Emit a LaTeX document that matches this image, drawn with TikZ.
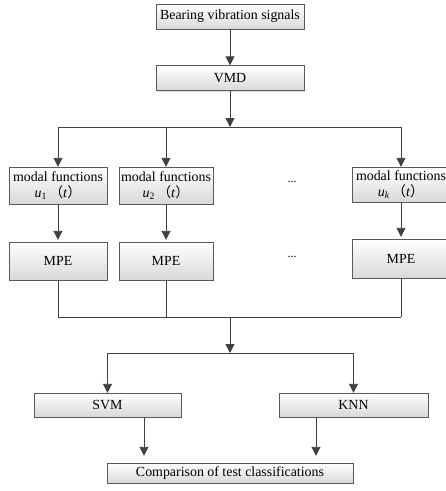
\documentclass[tikz,border=0pt]{standalone}
\usepackage{fontspec}
\setmainfont{Liberation Serif}
\newfontfamily\cjk{Noto Sans CJK SC}
\usetikzlibrary{arrows.meta,positioning,shadows,calc}

\newcommand{\modalfn}[1]{modal functions\\\textit{u}\textsubscript{#1}\,{\cjk （}\textit{t}{\cjk ）}}

\begin{document}
\begin{tikzpicture}[x=1pt,y=-1pt,font=\fontsize{13.9}{16}\selectfont]
  \tikzstyle{box}=[draw=black!65,top color=white,bottom color=black!15,
    drop shadow={shadow xshift=1.2pt,shadow yshift=-1.2pt,opacity=0.25},
    inner sep=1pt,align=center]
  \tikzstyle{arr}=[draw=black!75,line width=0.9pt,-{Triangle[length=9pt,width=9pt]}]
  \tikzstyle{ln}=[draw=black!75,line width=0.9pt]
  \useasboundingbox (0,0) rectangle (446,491);
  % top of the chain
  \node[box,minimum width=148pt,minimum height=25pt] (sig) at (230,16.5) {Bearing vibration signals};
  \node[box,minimum width=148pt,minimum height=25pt] (vmd) at (230,78) {VMD};
  \coordinate (split) at (230,127);
  % modes
  \node[box,minimum width=98pt,minimum height=37pt] (mf1) at (58,185.5) {\modalfn{1}};
  \node[box,minimum width=94pt,minimum height=37pt] (mf2) at (166,185.5) {\modalfn{2}};
  \node[box,minimum width=98pt,minimum height=35pt] (mf3) at (401,184.5) {\modalfn{\textit{k}}};
  \node[box,minimum width=98pt,minimum height=38pt] (mpe1) at (58,261) {MPE};
  \node[box,minimum width=94pt,minimum height=38pt] (mpe2) at (166,261) {MPE};
  \node[box,minimum width=98pt,minimum height=39pt] (mpe3) at (401,258.5) {MPE};
  \node[font=\fontsize{12}{14}\selectfont] (d1) at (292,182) {...};
  \node[font=\fontsize{12}{14}\selectfont] (d2) at (292,257) {...};
  \coordinate (merge) at (230,317);
  \coordinate (fork) at (230,353);
  % classifiers
  \node[box,minimum width=147pt,minimum height=24pt] (svm) at (107.5,405) {SVM};
  \node[box,minimum width=149pt,minimum height=24pt] (knn) at (353.5,405) {KNN};
  \node[box,minimum width=246pt,minimum height=20pt] (comp) at (230,473) {Comparison of test classifications};
  \coordinate (c1) at (144,440);
  \coordinate (c2) at (316,440);
  % connectors
  \draw[arr] (sig) -- (vmd);
  \draw[arr] (vmd) -- (split);
  \draw[ln] (mf1.north |- split) -- (mf3.north |- split);
  \foreach \i in {1,2,3} {
    \draw[arr] (mf\i.north |- split) -- (mf\i);
    \draw[arr,shorten >=2pt] (mf\i) -- (mpe\i);
    \draw[ln] (mpe\i) -- (mpe\i.south |- merge);
  }
  \draw[ln] (mpe1.south |- merge) -- (mpe3.south |- merge);
  \draw[arr] (merge) -- (fork);
  \draw[ln] (svm.north |- fork) -- (knn.north |- fork);
  \draw[arr] (svm.north |- fork) -- (svm);
  \draw[arr] (knn.north |- fork) -- (knn);
  \draw[arr,shorten >=7pt] (svm.south -| c1) -- (comp.north -| c1);
  \draw[arr,shorten >=7pt] (knn.south -| c2) -- (comp.north -| c2);
\end{tikzpicture}
\end{document}
